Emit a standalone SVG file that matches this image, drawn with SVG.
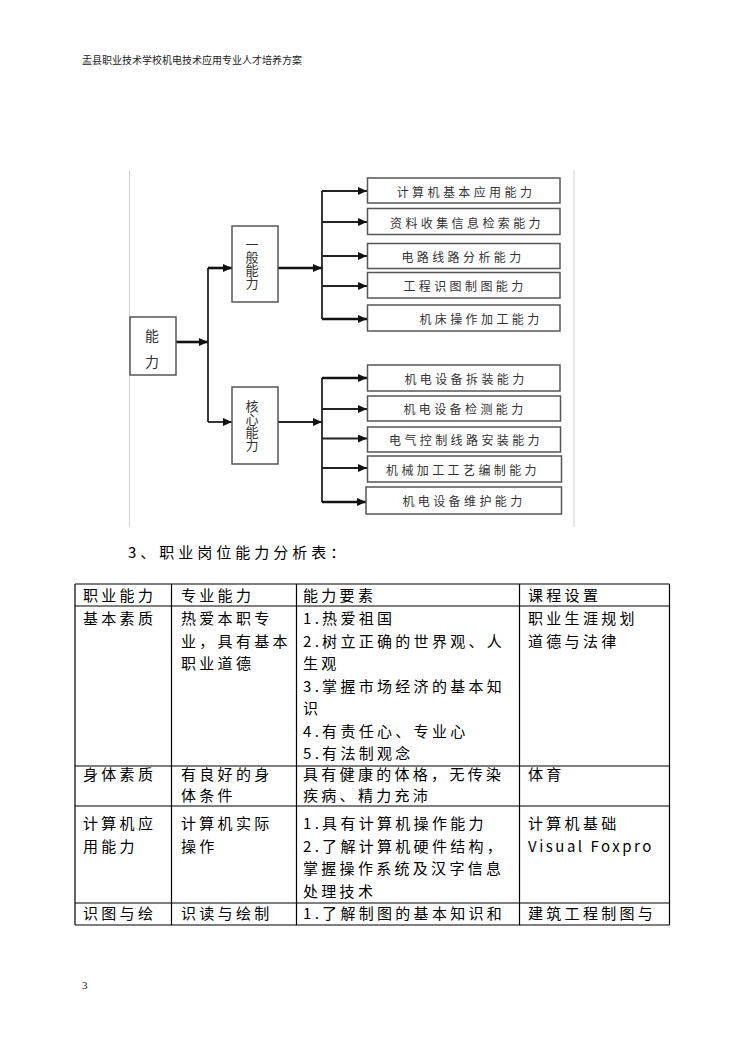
<svg xmlns="http://www.w3.org/2000/svg" width="744" height="1052" viewBox="0 0 744 1052">
<style>
.cjk{font-family:"Noto Sans CJK SC","Noto Sans",sans-serif;}
.hdr{font-size:10px;fill:#222;}
.box{fill:#fff;stroke:#555;stroke-width:1.5;}
.bt{font-size:12px;fill:#333;letter-spacing:3.4px;text-anchor:middle;dominant-baseline:central;}
.vt{font-size:13px;fill:#333;text-anchor:middle;writing-mode:vertical-rl;}
.ln{stroke:#222;stroke-width:1.8;fill:none;}
.thick{stroke:#111;stroke-width:2.6;fill:none;}
.frame{stroke:#d0d0d0;stroke-width:1;}
.tl{stroke:#000;stroke-width:1.2;}
.tt{font-size:15px;fill:#000;letter-spacing:3.3px;}
</style>
<defs>
<marker id="ah" markerUnits="userSpaceOnUse" markerWidth="9" markerHeight="8" refX="9" refY="4" orient="auto">
<path d="M0,0 L9,4 L0,8 z" fill="#111"/>
</marker>
</defs>
<rect width="744" height="1052" fill="#fff"/>
<text class="cjk hdr" x="82" y="64">盂县职业技术学校机电技术应用专业人才培养方案</text>

<g id="frame">
<line class="frame" x1="129.5" y1="170" x2="129.5" y2="527"/>
<line class="frame" x1="574" y1="170" x2="574" y2="527"/>
</g>

<g id="connectors">
<line class="thick" x1="176" y1="342" x2="208" y2="342" marker-end="url(#ah)"/>
<line class="ln" x1="208" y1="268" x2="208" y2="422"/>
<line class="thick" x1="208" y1="268" x2="232" y2="268" marker-end="url(#ah)"/>
<line class="ln" x1="208" y1="422" x2="232" y2="422" marker-end="url(#ah)"/>
<line class="thick" x1="278" y1="268" x2="322" y2="268" marker-end="url(#ah)"/>
<line class="ln" x1="278" y1="422" x2="322" y2="422" marker-end="url(#ah)"/>
<line class="ln" x1="322" y1="191" x2="322" y2="319"/>
<line class="ln" x1="322" y1="191" x2="367" y2="191" marker-end="url(#ah)"/>
<line class="ln" x1="322" y1="222" x2="367" y2="222" marker-end="url(#ah)"/>
<line class="ln" x1="322" y1="256" x2="367" y2="256" marker-end="url(#ah)"/>
<line class="ln" x1="322" y1="286" x2="367" y2="286" marker-end="url(#ah)"/>
<line class="thick" x1="322" y1="319" x2="367" y2="319" marker-end="url(#ah)"/>
<line class="ln" x1="322" y1="378" x2="322" y2="502"/>
<line class="thick" x1="322" y1="378" x2="367" y2="378" marker-end="url(#ah)"/>
<line class="ln" x1="322" y1="409" x2="367" y2="409" marker-end="url(#ah)"/>
<line class="ln" x1="322" y1="438.5" x2="367" y2="438.5" marker-end="url(#ah)"/>
<line class="ln" x1="322" y1="468" x2="367" y2="468" marker-end="url(#ah)"/>
<line class="thick" x1="322" y1="502" x2="366" y2="502" marker-end="url(#ah)"/>
</g>

<g id="n-nengli"><rect class="box" x="130" y="317" width="46" height="58"/>
<text class="cjk" style="font-size:14px;fill:#333;text-anchor:middle;dominant-baseline:central" x="152" y="335">能</text><text class="cjk" style="font-size:14px;fill:#333;text-anchor:middle;dominant-baseline:central" x="152" y="361">力</text></g>

<g id="n-yiban"><rect class="box" x="232" y="226" width="46" height="76"/>
<text class="cjk vt" x="252" y="264">一般能力</text></g>

<g id="n-hexin"><rect class="box" x="232" y="387" width="46" height="77"/>
<text class="cjk vt" x="252" y="426">核心能力</text></g>

<g id="n-g1"><rect class="box" x="367.5" y="178" width="192.5" height="25"/><text class="cjk bt" x="466" y="191">计算机基本应用能力</text></g>
<g id="n-g2"><rect class="box" x="367.5" y="208.5" width="192.5" height="26"/><text class="cjk bt" x="467" y="222">资料收集信息检索能力</text></g>
<g id="n-g3"><rect class="box" x="367.5" y="243.5" width="192.5" height="25"/><text class="cjk bt" x="463" y="256">电路线路分析能力</text></g>
<g id="n-g4"><rect class="box" x="367.5" y="272.5" width="192.5" height="25.5"/><text class="cjk bt" x="465" y="285.5">工程识图制图能力</text></g>
<g id="n-g5"><rect class="box" x="367.5" y="305" width="192.5" height="26"/><text class="cjk bt" x="481" y="318.5">机床操作加工能力</text></g>

<g id="n-c1"><rect class="box" x="367.5" y="365" width="192.5" height="26"/><text class="cjk bt" x="466" y="378">机电设备拆装能力</text></g>
<g id="n-c2"><rect class="box" x="367.5" y="396" width="193" height="25"/><text class="cjk bt" x="465" y="408.5">机电设备检测能力</text></g>
<g id="n-c3"><rect class="box" x="367.5" y="427" width="193" height="25"/><text class="cjk bt" x="466" y="439.5">电气控制线路安装能力</text></g>
<g id="n-c4"><rect class="box" x="367.5" y="456" width="194" height="26"/><text class="cjk bt" x="463" y="469">机械加工工艺编制能力</text></g>
<g id="n-c5"><rect class="box" x="366" y="487" width="195.5" height="27"/><text class="cjk bt" x="464" y="500.5">机电设备维护能力</text></g>

<text class="cjk" x="128" y="558" style="font-size:15px;letter-spacing:4px">3、职业岗位能力分析表：</text>

<g id="table">
<line class="tl" x1="75" y1="584" x2="669.5" y2="584"/>
<line class="tl" x1="75" y1="606" x2="669.5" y2="606"/>
<line class="tl" x1="75" y1="766" x2="669.5" y2="766"/>
<line class="tl" x1="75" y1="806" x2="669.5" y2="806"/>
<line class="tl" x1="75" y1="903" x2="669.5" y2="903"/>
<line class="tl" x1="75" y1="925" x2="669.5" y2="925"/>
<line class="tl" x1="75" y1="584" x2="75" y2="925"/>
<line class="tl" x1="171.5" y1="584" x2="171.5" y2="925"/>
<line class="tl" x1="296.5" y1="584" x2="296.5" y2="925"/>
<line class="tl" x1="519.5" y1="584" x2="519.5" y2="925"/>
<line class="tl" x1="669.5" y1="584" x2="669.5" y2="925"/>

<g class="cjk tt">
<text x="83" y="601">职业能力</text>
<text x="181" y="601">专业能力</text>
<text x="303" y="601">能力要素</text>
<text x="528" y="601">课程设置</text>

<text x="83" y="624">基本素质</text>
<text x="181" y="624">热爱本职专</text>
<text x="181" y="646.5">业，具有基本</text>
<text x="181" y="669">职业道德</text>
<text x="303" y="624">1.热爱祖国</text>
<text x="303" y="646.5">2.树立正确的世界观、人</text>
<text x="303" y="669">生观</text>
<text x="303" y="691.5">3.掌握市场经济的基本知</text>
<text x="303" y="714">识</text>
<text x="303" y="736.5">4.有责任心、专业心</text>
<text x="303" y="759">5.有法制观念</text>
<text x="528" y="624">职业生涯规划</text>
<text x="528" y="646.5">道德与法律</text>

<text x="83" y="780">身体素质</text>
<text x="181" y="780">有良好的身</text>
<text x="181" y="801">体条件</text>
<text x="303" y="780">具有健康的体格，无传染</text>
<text x="303" y="801">疾病、精力充沛</text>
<text x="528" y="780">体育</text>

<text x="83" y="829">计算机应</text>
<text x="83" y="851.5">用能力</text>
<text x="181" y="829">计算机实际</text>
<text x="181" y="851.5">操作</text>
<text x="303" y="829">1.具有计算机操作能力</text>
<text x="303" y="851.5">2.了解计算机硬件结构，</text>
<text x="303" y="874">掌握操作系统及汉字信息</text>
<text x="303" y="896.5">处理技术</text>
<text x="528" y="829">计算机基础</text>
<text x="528" y="851.5" style="letter-spacing:2.5px">Visual Foxpro</text>

<text x="83" y="919">识图与绘</text>
<text x="181" y="919">识读与绘制</text>
<text x="303" y="919">1.了解制图的基本知识和</text>
<text x="528" y="919">建筑工程制图与</text>
</g>
</g>

<text x="82" y="989" style="font-family:'Liberation Serif',serif;font-size:11px;fill:#222">3</text>
</svg>
